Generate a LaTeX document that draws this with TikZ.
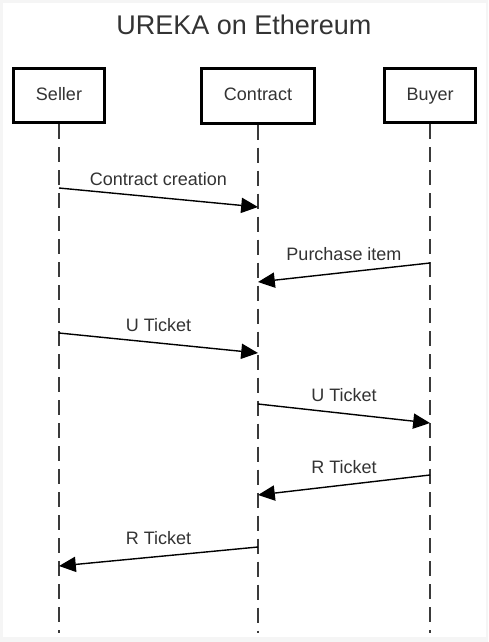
\documentclass[tikz,border=0pt]{standalone}
\usepackage{fontspec}
\setmainfont{Liberation Sans}
\usetikzlibrary{arrows.meta}
\definecolor{textgray}{HTML}{333333}
\definecolor{linegray}{HTML}{3A3A3A}
\definecolor{framegray}{HTML}{F5F5F5}

\begin{document}
\begin{tikzpicture}
  [
    x = 0.25mm, y = -0.25mm,
    actor/.style = {draw=black, line width=0.75mm, fill=white,
        minimum width=22.75mm, minimum height=13.5mm,
        font=\fontsize{12.8}{15}\selectfont, text=textgray,
        text height=1.6ex, text depth=0.3ex},
    lifeline/.style = {draw=linegray, line width=0.5mm, dash pattern=on 3.75mm off 2mm},
    msg/.style = {draw=black, line width=0.35mm, -{Triangle[length=4.2mm, width=3.8mm]}},
    msglabel/.style = {font=\fontsize{12.8}{15}\selectfont, text=textgray,
        anchor=base, yshift=3mm}
  ]

  \fill[framegray] (0,0) rectangle (488,642);
  \fill[white] (3,3) rectangle (486,637);
  \useasboundingbox (0,0) rectangle (488,642);

  \node[font=\fontsize{19.2}{23}\selectfont, text=textgray, anchor=base] (title) at (244,35) {UREKA on Ethereum};

  \node[actor] (seller) at (59,95.5) {Seller};
  \node[actor, minimum width=28.25mm] (contract) at (258,96) {Contract};
  \node[actor] (buyer) at (430,95.5) {Buyer};

  % lifelines
  \coordinate (sellerEnd) at (59,633);
  \coordinate (contractEnd) at (258,633);
  \coordinate (buyerEnd) at (430,633);
  \draw[lifeline] (seller.south) -- (sellerEnd);
  \draw[lifeline] (contract.south) -- (contractEnd);
  \draw[lifeline] (buyer.south) -- (buyerEnd);

  % message ends
  \coordinate (s1) at (59,188);
  \coordinate (c1) at (258,207);
  \coordinate (b2) at (430,263);
  \coordinate (c2) at (258,282);
  \coordinate (s3) at (59,333);
  \coordinate (c3) at (258,353);
  \coordinate (c4) at (258,404);
  \coordinate (b4) at (430,423);
  \coordinate (b5) at (430,475);
  \coordinate (c5) at (258,495);
  \coordinate (c6) at (258,547);
  \coordinate (s6) at (59,566);

  \draw[msg] (s1) -- node[msglabel, midway] {Contract creation} (c1);
  \draw[msg] (b2) -- node[msglabel, midway] {Purchase item} (c2);
  \draw[msg] (s3) -- node[msglabel, midway] {U Ticket} (c3);
  \draw[msg] (c4) -- node[msglabel, midway] {U Ticket} (b4);
  \draw[msg] (b5) -- node[msglabel, midway] {R Ticket} (c5);
  \draw[msg] (c6) -- node[msglabel, midway] {R Ticket} (s6);

\end{tikzpicture}
\end{document}
